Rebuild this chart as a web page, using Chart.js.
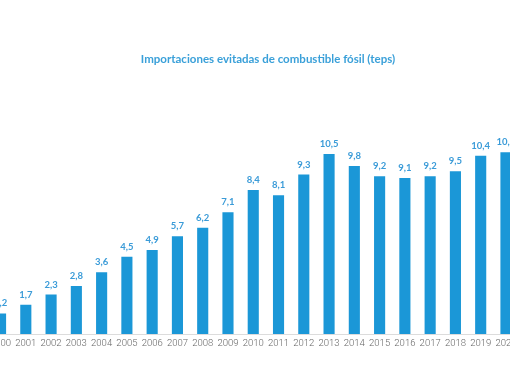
<!DOCTYPE html>
<html>
<head>
<meta charset="utf-8">
<script src="https://cdn.jsdelivr.net/npm/chart.js@4"></script>
<style>
html,body{margin:0;padding:0;background:#fff;overflow:hidden;width:510px;height:382px;}
#wrap{position:absolute;left:-14px;top:0;width:564px;height:382px;}
#title{position:absolute;left:0;width:536px;top:51px;text-align:center;color:#3aa0d9;font:bold 11.5px Lato,"Open Sans",sans-serif;line-height:16px;white-space:nowrap;}
</style>
</head>
<body>
<div id="wrap"><canvas id="c" width="564" height="382"></canvas></div>
<div id="title"></div>
<script>
const categories = ["2000","2001","2002","2003","2004","2005","2006","2007","2008","2009","2010","2011","2012","2013","2014","2015","2016","2017","2018","2019","2020"];
const values = [1.2,1.7,2.3,2.8,3.6,4.5,4.9,5.7,6.2,7.1,8.4,8.1,9.3,10.5,9.8,9.2,9.1,9.2,9.5,10.4,10.6];
const titleText = "Importaciones evitadas de combustible fósil (teps)";
document.getElementById('title').textContent = titleText;

const valueLabels = {
  id: 'valueLabels',
  afterDatasetsDraw(chart) {
    const ctx = chart.ctx;
    const meta = chart.getDatasetMeta(0);
    ctx.save();
    ctx.fillStyle = '#3a9bd8';
    ctx.font = 'bold 9.5px Lato, "Open Sans", sans-serif';
    ctx.textAlign = 'center';
    ctx.textBaseline = 'middle';
    meta.data.forEach((bar, i) => {
      const txt = values[i].toFixed(1).replace('.', ',');
      ctx.fillText(txt, bar.x, bar.y - 10);
    });
    ctx.restore();
  }
};

new Chart(document.getElementById('c'), {
  type: 'bar',
  data: {
    labels: categories,
    datasets: [{
      data: values,
      backgroundColor: '#1b97d7',
      borderWidth: 0,
      categoryPercentage: 1,
      barPercentage: 0.44
    }]
  },
  options: {
    responsive: false,
    devicePixelRatio: 1,
    animation: false,
    layout: { padding: { left: 0, right: 31.4, top: 128.3, bottom: 28.6 } },
    plugins: {
      legend: { display: false },
      tooltip: { enabled: false },
      title: { display: false }
    },
    scales: {
      x: {
        grid: { display: false, drawTicks: false },
        border: { display: true, color: '#dcdcdc', width: 1 },
        ticks: {
          color: '#666',
          font: { family: 'Roboto, sans-serif', size: 9.5, weight: '300' },
          padding: 4,
          maxRotation: 0,
          autoSkip: false
        }
      },
      y: {
        display: false,
        min: 0,
        max: 12
      }
    }
  },
  plugins: [valueLabels]
});
</script>
</body>
</html>
